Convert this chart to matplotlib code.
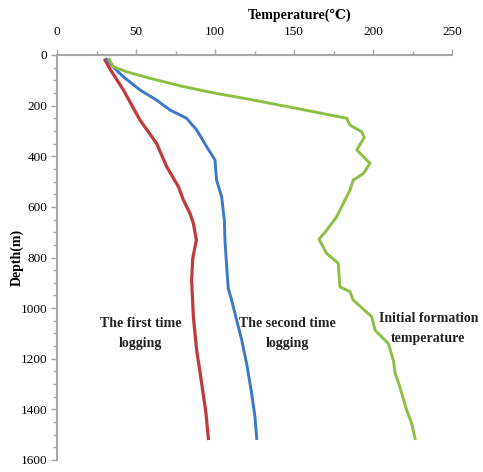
import matplotlib
matplotlib.use("Agg")
import matplotlib.pyplot as plt
from matplotlib.ticker import MultipleLocator

# First time logging
first_depth = [20, 60, 138, 257, 349, 441, 520, 573, 626, 665, 731, 804, 889, 1034, 1166, 1298, 1416, 1515]
first_temp = [30.4, 34, 42, 52.5, 63, 69.4, 76.8, 80, 84.2, 86.3, 88.2, 85.9, 85.2, 86.3, 88.4, 91.6, 94.3, 95.8]

# Second time logging
second_depth = [17, 50, 86, 138, 178, 217, 250, 296, 362, 415, 494, 560, 652, 731, 837, 922, 968,
                1047, 1126, 1218, 1337, 1430, 1515]
second_temp = [31.4, 36, 42, 52.5, 63, 71.5, 82, 88.4, 94.7, 100, 101, 104.2, 105.9, 106.3, 107.4, 108.4,
               110.5, 113.7, 116.9, 120, 123.2, 125.3, 126.4]

# Initial formation temperature
init_depth = [17, 46, 66, 92, 125, 152, 174, 211, 237, 250, 277, 303, 325, 375, 428, 468, 494, 534,
              586, 639, 692, 728, 784, 823, 916, 935, 968, 1034, 1087, 1140, 1206, 1258, 1311, 1403,
              1456, 1515]
init_temp = [32.9, 35.6, 44, 58.9, 80, 101, 121, 151.7, 172.8, 183.4, 185.4, 192.8, 194.5,
             189.7, 198.1, 193.9, 187.5, 185.4, 181.2, 177, 170.7, 165.8, 170.7, 178, 179, 185.4, 187.5,
             199.2, 201.3, 209.7, 212.9, 214, 217, 221.3, 224.5, 226.6]

x_ticks = [0, 50, 100, 150, 200, 250]
y_ticks = [0, 200, 400, 600, 800, 1000, 1200, 1400, 1600]

serif = ['Liberation Serif', 'DejaVu Serif', 'DejaVu Sans']
plt.rcParams['font.family'] = serif

fig = plt.figure(figsize=(4.83, 4.72), dpi=100)
ax = fig.add_axes([57/483, 1-460/472, 395/483, 405/472])

ax.plot(first_temp, first_depth, color='#C0393B', lw=2.3)
ax.plot(second_temp, second_depth, color='#3C78C8', lw=2.1)
ax.plot(init_temp, init_depth, color='#8DBF45', lw=2.1)

ax.set_xlim(0, 250)
ax.set_ylim(1600, 0)
ax.set_xticks(x_ticks)
ax.set_yticks(y_ticks)
ax.xaxis.set_minor_locator(MultipleLocator(25))
ax.yaxis.set_minor_locator(MultipleLocator(50))
ax.xaxis.tick_top()
ax.xaxis.set_label_position('top')

for s in ['right', 'bottom']:
    ax.spines[s].set_visible(False)
for s in ['left', 'top']:
    ax.spines[s].set_color('#A6A6A6')
    ax.spines[s].set_linewidth(1.5)

ax.tick_params(which='major', length=4, width=1, color='#A6A6A6', labelsize=9.5, pad=3)
ax.tick_params(which='minor', length=3, width=1, color='#A6A6A6')
ax.tick_params(axis='x', pad=8)

ax.set_xlabel('Temperature(℃)', fontsize=10, fontweight='bold', family=serif)
ax.xaxis.set_label_coords(0.615, 1.09)
ax.set_ylabel('Depth(m)', fontsize=10, fontweight='bold', family=serif)
ax.yaxis.set_label_coords(-0.085, 0.5)

ax.text(53, 1100, 'The first time\nlogging', ha='center', va='center', fontsize=10,
        fontweight='bold', color='#222222', linespacing=1.7)
ax.text(146, 1100, 'The second time\nlogging', ha='center', va='center', fontsize=10,
        fontweight='bold', color='#222222', linespacing=1.7)
ax.text(235, 1080, 'Initial formation\ntemperature', ha='center', va='center', fontsize=10,
        fontweight='bold', color='#222222', linespacing=1.7)

fig.savefig('out.png', dpi=100)
